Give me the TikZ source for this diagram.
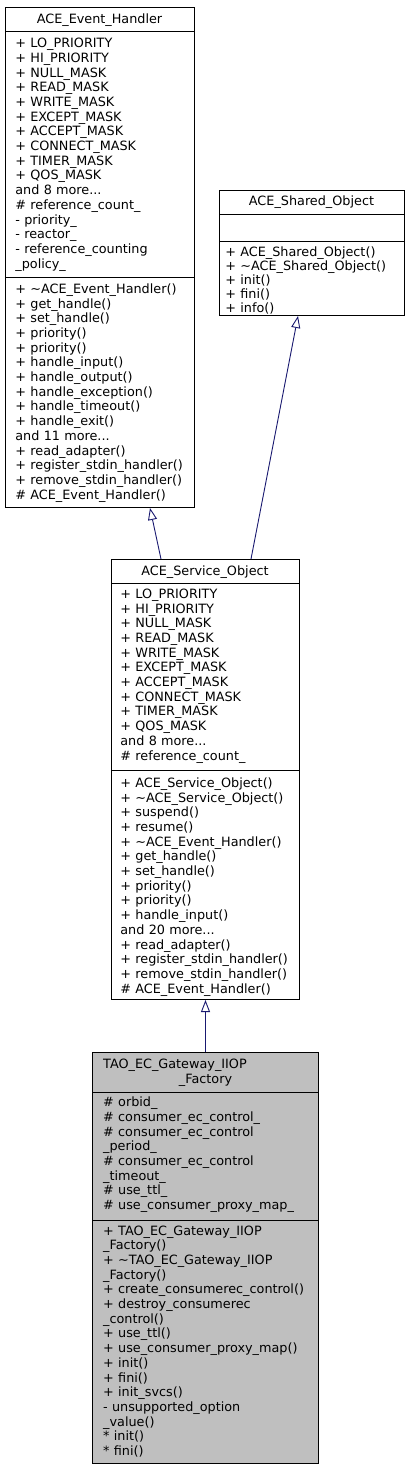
\documentclass[tikz,border=0pt]{standalone}
\usepackage{fontspec}
\setmainfont{DejaVu Sans}
\usetikzlibrary{arrows.meta}
\definecolor{edgeblue}{HTML}{191970}
\definecolor{boxgray}{HTML}{BFBFBF}
\begin{document}
\begin{tikzpicture}[x=1pt,y=-1pt,
  box/.style={draw=black, line width=1pt, inner sep=0pt, anchor=north west},
  sep/.style={draw=black, line width=1pt},
  txt/.style={inner sep=0pt, anchor=base west, text width=300pt, align=left, font=\fontsize{12.8}{14.7}\selectfont},
  txtb/.style={txt, font=\fontsize{12.8}{14}\selectfont},
  ttl/.style={inner sep=0pt, anchor=base, font=\fontsize{12.8}{14.7}\selectfont},
  inh/.style={draw=edgeblue, line width=0.9pt, -{Triangle[open, length=12pt, width=9pt]}}]
\useasboundingbox[fill=white] (0,0) rectangle (409,1472);

% ACE_Event_Handler
\node[box, minimum width=189pt, minimum height=500pt] (eh) at (5,7) {};
\draw[sep] (eh.west |- 0,32) -- (eh.east |- 0,32);
\draw[sep] (eh.west |- 0,277) -- (eh.east |- 0,277);
\node[ttl] (ehT) at (99.5,23.3) {ACE\_Event\_Handler};
\node[txt] (ehA) at (15.2,47.7) {+ LO\_PRIORITY\\+ HI\_PRIORITY\\+ NULL\_MASK\\+ READ\_MASK\\+ WRITE\_MASK\\+ EXCEPT\_MASK\\+ ACCEPT\_MASK\\+ CONNECT\_MASK\\+ TIMER\_MASK\\+ QOS\_MASK\\and 8 more...\\\# reference\_count\_\\- priority\_\\- reactor\_\\- reference\_counting\\\_policy\_};
\node[txt] (ehM) at (15.2,293.3) {+ \textasciitilde ACE\_Event\_Handler()\\+ get\_handle()\\+ set\_handle()\\+ priority()\\+ priority()\\+ handle\_input()\\+ handle\_output()\\+ handle\_exception()\\+ handle\_timeout()\\+ handle\_exit()\\and 11 more...\\+ read\_adapter()\\+ register\_stdin\_handler()\\+ remove\_stdin\_handler()\\\# ACE\_Event\_Handler()};

% ACE_Shared_Object
\node[box, minimum width=185pt, minimum height=125pt] (so) at (219,190) {};
\draw[sep] (so.west |- 0,214) -- (so.east |- 0,214);
\draw[sep] (so.west |- 0,241) -- (so.east |- 0,241);
\node[ttl] (soT) at (311.5,205.7) {ACE\_Shared\_Object};
\node[txtb] (soM) at (225.2,256) {+ ACE\_Shared\_Object()\\+ \textasciitilde ACE\_Shared\_Object()\\+ init()\\+ fini()\\+ info()};

% ACE_Service_Object
\node[box, minimum width=188pt, minimum height=440pt] (sv) at (111,559) {};
\draw[sep] (sv.west |- 0,583) -- (sv.east |- 0,583);
\draw[sep] (sv.west |- 0,770) -- (sv.east |- 0,770);
\node[ttl] (svT) at (205,575) {ACE\_Service\_Object};
\node[txt] (svA) at (120.2,598.3) {+ LO\_PRIORITY\\+ HI\_PRIORITY\\+ NULL\_MASK\\+ READ\_MASK\\+ WRITE\_MASK\\+ EXCEPT\_MASK\\+ ACCEPT\_MASK\\+ CONNECT\_MASK\\+ TIMER\_MASK\\+ QOS\_MASK\\and 8 more...\\\# reference\_count\_};
\node[txt] (svM) at (120.2,787.3) {+ ACE\_Service\_Object()\\+ \textasciitilde ACE\_Service\_Object()\\+ suspend()\\+ resume()\\+ \textasciitilde ACE\_Event\_Handler()\\+ get\_handle()\\+ set\_handle()\\+ priority()\\+ priority()\\+ handle\_input()\\and 20 more...\\+ read\_adapter()\\+ register\_stdin\_handler()\\+ remove\_stdin\_handler()\\\# ACE\_Event\_Handler()};

% TAO_EC_Gateway_IIOP_Factory
\node[box, fill=boxgray, minimum width=226pt, minimum height=411pt] (tao) at (92,1052) {};
\draw[sep] (tao.west |- 0,1092) -- (tao.east |- 0,1092);
\draw[sep] (tao.west |- 0,1220) -- (tao.east |- 0,1220);
\node[ttl, anchor=base west] (taoT1) at (103,1068.3) {TAO\_EC\_Gateway\_IIOP};
\node[ttl] (taoT2) at (205.5,1083.3) {\_Factory};
\node[txt] (taoA) at (103,1106.7) {\# orbid\_\\\# consumer\_ec\_control\_\\\# consumer\_ec\_control\\\_period\_\\\# consumer\_ec\_control\\\_timeout\_\\\# use\_ttl\_\\\# use\_consumer\_proxy\_map\_};
\node[txt] (taoM) at (103,1235) {+ TAO\_EC\_Gateway\_IIOP\\\_Factory()\\+ \textasciitilde TAO\_EC\_Gateway\_IIOP\\\_Factory()\\+ create\_consumerec\_control()\\+ destroy\_consumerec\\\_control()\\+ use\_ttl()\\+ use\_consumer\_proxy\_map()\\+ init()\\+ fini()\\+ init\_svcs()\\- unsupported\_option\\\_value()\\{}* init()\\{}* fini()};

% inheritance connectors
\draw[inh] ([xshift=50pt]sv.north west) -- ([xshift=145pt]eh.south west);
\draw[inh] ([xshift=140pt]sv.north west) -- ([xshift=79pt]so.south west);
\draw[inh] (tao.north) -- (sv.south);
\end{tikzpicture}
\end{document}
